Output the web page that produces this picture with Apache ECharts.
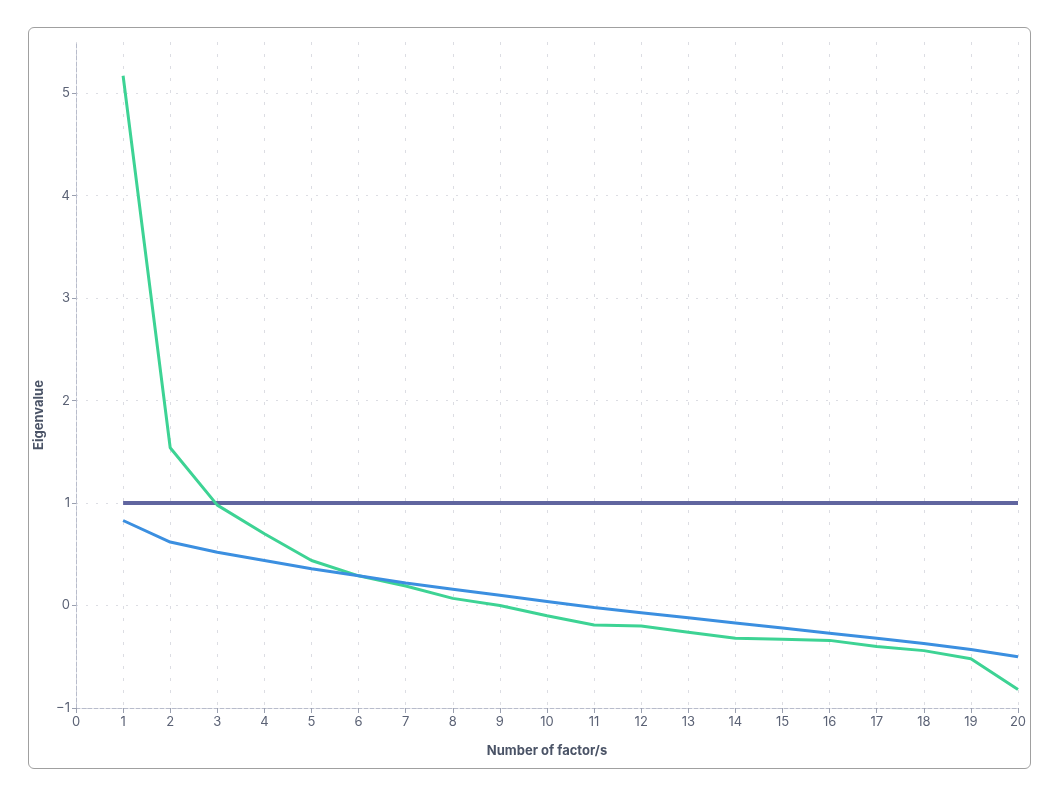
<!DOCTYPE html>
<html>
<head>
<meta charset="utf-8">
<script src="https://cdn.jsdelivr.net/npm/echarts@6/dist/echarts.min.js"></script>
<style>
  html, body { margin: 0; padding: 0; background: #fff; }
  .box {
    position: absolute;
    left: 28px; top: 27px;
    width: 1001px; height: 740px;
    border: 1px solid #a0a0a0;
    border-radius: 6px;
  }
  #chart { position: absolute; left: 0; top: 0; width: 1059px; height: 795px; }
</style>
</head>
<body>
<div class="box"></div>
<div id="chart"></div>
<script>
// number of factors
const factors = [1, 2, 3, 4, 5, 6, 7, 8, 9, 10, 11, 12, 13, 14, 15, 16, 17, 18, 19, 20]
// observed eigenvalues (green)
const eigenValues = [5.17, 1.54, 0.98, 0.70, 0.44, 0.29, 0.19, 0.07, 0.00, -0.10, -0.19, -0.20, -0.26, -0.32, -0.33, -0.34, -0.40, -0.44, -0.52, -0.82]
// simulated / parallel eigenvalues (blue)
const simValues = [0.83, 0.62, 0.52, 0.44, 0.36, 0.29, 0.22, 0.16, 0.10, 0.04, -0.02, -0.07, -0.12, -0.17, -0.22, -0.27, -0.32, -0.37, -0.43, -0.50]
// kaiser line
const kaiserValue = 1

const chart = echarts.init(document.getElementById('chart'))

const axisTextColor = '#5b6275'
const gridColor = '#dcdde3'

const option = {
  animation: false,
  textStyle: { fontFamily: 'Inter, "Noto Sans", sans-serif' },
  grid: {
    left: 76,
    right: 41,
    top: 42,
    bottom: 87
  },
  xAxis: {
    type: 'value',
    min: 0,
    max: 20,
    interval: 1,
    name: 'Number of factor/s',
    nameLocation: 'middle',
    nameGap: 37,
    nameTextStyle: { color: '#4a5366', fontSize: 13, fontWeight: 'bold' },
    axisLine: { show: true, onZero: false, lineStyle: { color: '#b8bccb', type: 'dashed', width: 1 } },
    axisTick: { show: true, length: 5, lineStyle: { color: '#9aa0b0' } },
    axisLabel: { color: axisTextColor, fontSize: 13, margin: 8 },
    splitLine: { show: true, lineStyle: { color: gridColor, type: [3, 9] } }
  },
  yAxis: {
    type: 'value',
    min: -1,
    max: 5.5,
    interval: 1,
    name: 'Eigenvalue',
    nameLocation: 'middle',
    nameGap: 30,
    nameTextStyle: { color: '#4a5366', fontSize: 13, fontWeight: 'bold', padding: [0, 0, 0, -80] },
    axisLine: { show: true, onZero: false, lineStyle: { color: '#b8bccb', type: 'dashed', width: 1 } },
    axisTick: { show: true, length: 4, lineStyle: { color: '#9aa0b0' } },
    axisLabel: {
      color: axisTextColor,
      fontSize: 13,
      margin: 6,
      showMaxLabel: false,
      formatter: (v) => (v < 0 ? '\u2212' + Math.abs(v) : String(v))
    },
    splitLine: { show: true, showMaxLine: false, lineStyle: { color: gridColor, type: [2, 8] } }
  },
  series: [
    {
      name: 'Kaiser',
      type: 'line',
      data: factors.map((f) => [f, kaiserValue]),
      symbol: 'none',
      lineStyle: { color: '#60659f', width: 4 },
      z: 2
    },
    {
      name: 'Eigenvalue',
      type: 'line',
      data: factors.map((f, i) => [f, eigenValues[i]]),
      symbol: 'none',
      lineStyle: { color: '#3dd394', width: 3 },
      z: 3
    },
    {
      name: 'Simulated',
      type: 'line',
      data: factors.map((f, i) => [f, simValues[i]]),
      symbol: 'none',
      lineStyle: { color: '#3b8fe0', width: 3 },
      z: 4
    }
  ]
}

chart.setOption(option)
</script>
</body>
</html>
